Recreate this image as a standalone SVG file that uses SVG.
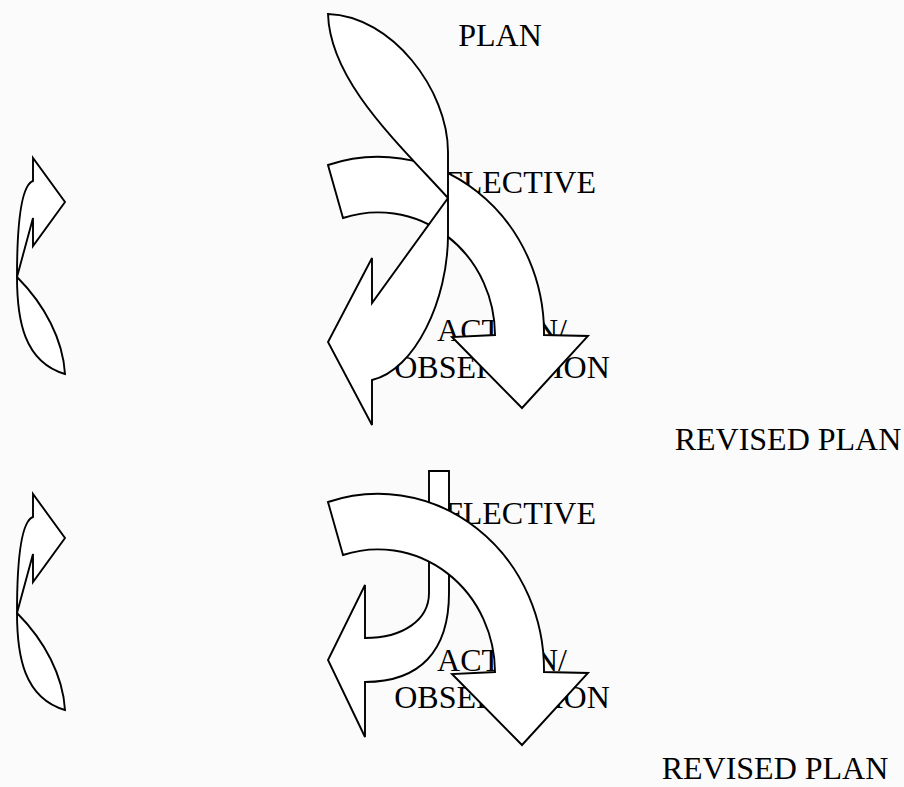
<svg xmlns="http://www.w3.org/2000/svg" width="904" height="787" viewBox="0 0 904 787">
<style>
.lbl{font-family:"Liberation Serif","Times New Roman",serif;font-size:32px;fill:#000}
.arr{fill:#fff;stroke:#000;stroke-width:1.9;stroke-linejoin:miter}
</style>
<defs>
<path id="small" d="M33,158 L33,181 C22,185 17,220 17,277 C17,320 24,362 65,374 C63,340 45,305 17,277 L33,218 L33,246 L65,202 Z"/>
</defs>
<rect width="904" height="787" fill="#fbfbfb"/>
<g id="plan"><text class="lbl" x="500" y="46" text-anchor="middle">PLAN</text></g>
<g id="reflective-1"><text class="lbl" x="500" y="193" text-anchor="middle">REFLECTIVE</text></g>
<g id="action-1"><text class="lbl" x="502" y="341" text-anchor="middle">ACTION/</text><text class="lbl" x="502" y="378" text-anchor="middle">OBSERVATION</text></g>
<g id="revised-plan-1"><text class="lbl" x="788" y="450" text-anchor="middle">REVISED PLAN</text></g>
<g id="reflective-2"><text class="lbl" x="500" y="524" text-anchor="middle">REFLECTIVE</text></g>
<g id="action-2"><text class="lbl" x="502" y="671" text-anchor="middle">ACTION/</text><text class="lbl" x="502" y="708" text-anchor="middle">OBSERVATION</text></g>
<g id="revised-plan-2"><text class="lbl" x="775" y="779" text-anchor="middle">REVISED PLAN</text></g>
<g id="connectors">
<use href="#small" class="arr"/>
<path class="arr" d="M328,165 A166,176 0 0 1 544,335 L588,336 L522,408 L452,337 L495,335 A117,123 0 0 0 343,218 Z"/>
<path class="arr" d="M328,14 C392,16 448,90 448,152 L448,235 C448,300 415,370 372,380 L372,425 L328,342 L372,258 L372,303 L448,198 C395,140 330,80 328,14 Z"/>
<use href="#small" class="arr" transform="translate(0,336)"/>
<path class="arr" d="M429,471 L449,471 L449,593 C449,651 420,682 365,682 L365,737 L328,660 L365,585 L365,638 C403,638 429,620 429,593 Z"/>
<path class="arr" d="M328,502 A166,176 0 0 1 544,672 L588,673 L522,745 L452,674 L495,672 A117,123 0 0 0 343,555 Z"/>
</g>
</svg>
